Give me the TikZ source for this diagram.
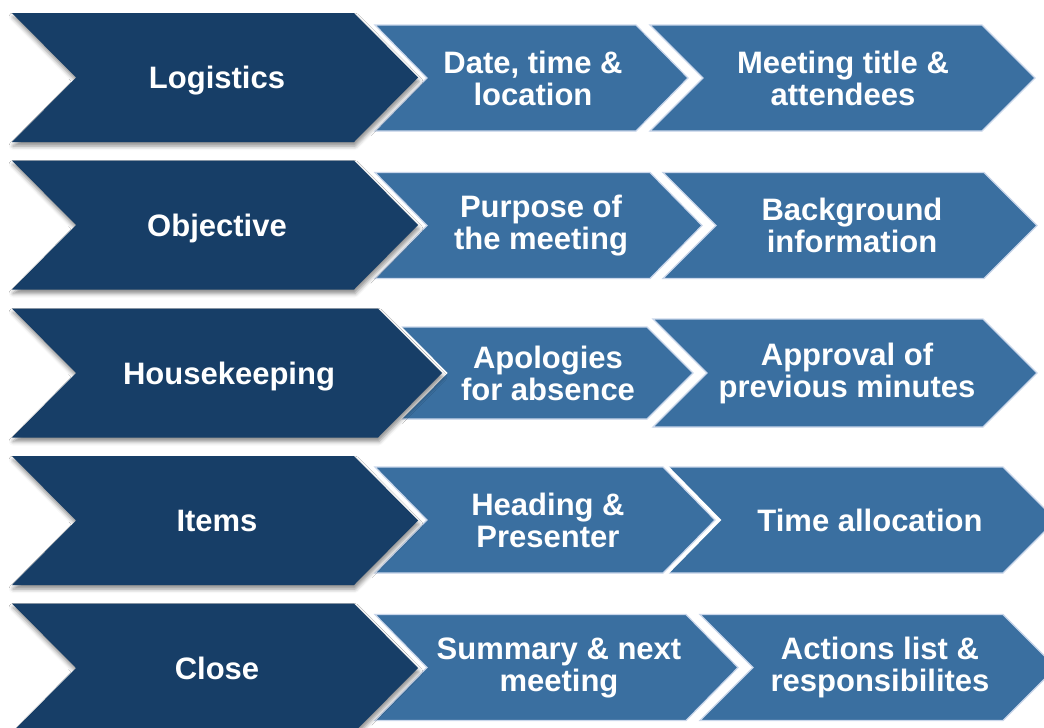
\documentclass[tikz,border=0pt]{standalone}
\usepackage{fontspec}
\setmainfont{Liberation Sans}
\usetikzlibrary{shadows.blur}
\definecolor{navy}{HTML}{173E67}
\definecolor{steel}{HTML}{3A6FA0}
\definecolor{rim}{HTML}{C9D6EA}
\tikzset{
  darkchev/.style={preaction={draw=white,line width=8pt,line join=miter},
    blur shadow={shadow xshift=1pt,shadow yshift=-4pt,shadow blur radius=4pt,shadow opacity=45},
    fill=navy},
  lightchev/.style={preaction={draw=white,line width=9pt,line join=miter},
    fill=steel,draw=rim,line width=1.2pt},
  lbl/.style={text=white,font=\bfseries\fontsize{31}{32}\selectfont,align=center,inner sep=0pt},
  oneline/.style={text height=22.2pt,text depth=0pt}
}
% #1 name #2 style #3 left x #4 tip x #5 centre y #6 half height #7 depth #8 text x #9 text
\newcommand\chev[9]{%
  \path[#2] (#3,#5-#6) -- (#4-#7,#5-#6) -- (#4,#5) -- (#4-#7,#5+#6) -- (#3,#5+#6) -- (#3+#7,#5) -- cycle;
  \node[lbl] (#1) at (#8,#5) {#9};
}
\newcommand\chevone[9]{%
  \path[#2] (#3,#5-#6) -- (#4-#7,#5-#6) -- (#4,#5) -- (#4-#7,#5+#6) -- (#3,#5+#6) -- (#3+#7,#5) -- cycle;
  \node[lbl,oneline] (#1) at (#8,#5) {#9};
}
\begin{document}
\begin{tikzpicture}[x=1pt,y=-1pt]
\useasboundingbox (0,0) rectangle (1044,728);
\clip (0,0) rectangle (1044,728);
% Row 1
\chev{r1c}{lightchev}{650}{1035}{78}{53}{53}{843}{Meeting title \&\\attendees}
\chev{r1b}{lightchev}{375}{688}{78}{53}{52}{533}{Date, time \&\\location}
\chevone{r1a}{darkchev}{12}{418}{77.5}{64.5}{64}{217}{Logistics}
% Row 2
\chev{r2c}{lightchev}{663}{1037}{225.5}{53}{53}{852}{Background\\information}
\chev{r2b}{lightchev}{375}{702}{225.5}{53}{52}{541}{Purpose of\\the meeting}
\chevone{r2a}{darkchev}{12}{418}{225}{64.5}{64}{217}{Objective}
% Row 3
\chev{r3c}{lightchev}{653}{1037}{373}{54}{54}{847}{Approval of\\previous minutes}
\chev{r3b}{lightchev}{400}{693}{373}{46}{46}{548}{Apologies\\for absence}
\chevone{r3a}{darkchev}{12}{442}{373}{64.5}{64}{229}{Housekeeping}
% Row 4
\chevone{r4c}{lightchev}{665}{1056}{520}{53}{53}{870}{Time allocation}
\chev{r4b}{lightchev}{375}{715}{520}{53}{52}{548}{Heading \&\\Presenter}
\chevone{r4a}{darkchev}{12}{418}{520.5}{64.5}{64}{217}{Items}
% Row 5
\chev{r5c}{lightchev}{700}{1056}{667.5}{53}{53}{880}{Actions list \&\\responsibilites}
\chev{r5b}{lightchev}{375}{738}{667.5}{53}{52}{559}{Summary \& next\\meeting}
\chevone{r5a}{darkchev}{12}{418}{668}{64.5}{64}{217}{Close}
\end{tikzpicture}
\end{document}
